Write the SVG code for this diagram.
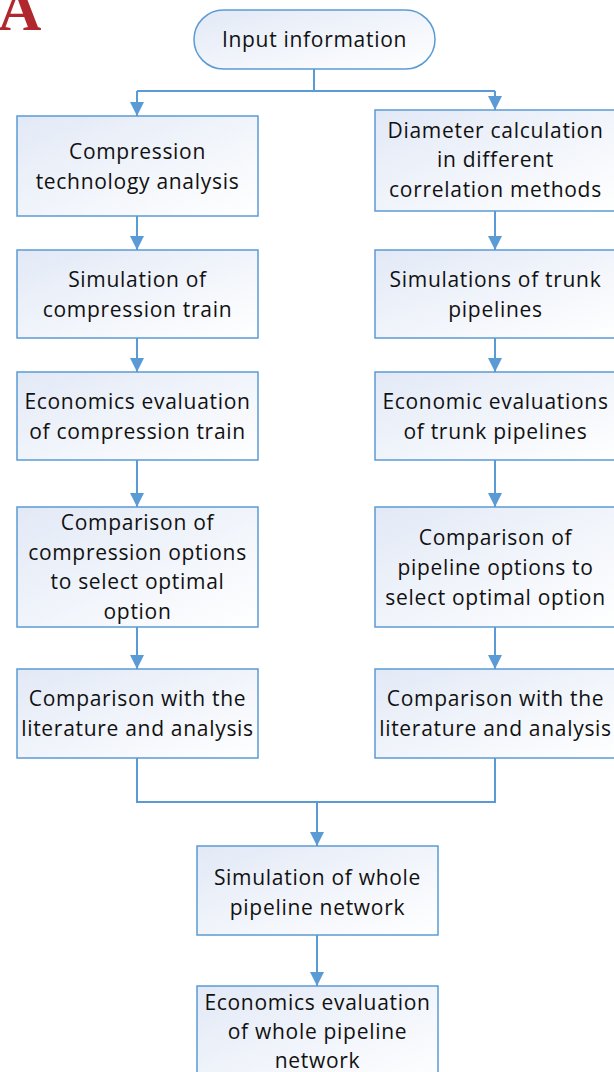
<svg xmlns="http://www.w3.org/2000/svg" width="614" height="1072" viewBox="0 0 614 1072">
<defs>
<linearGradient id="g" x1="0" y1="0" x2="1" y2="1">
<stop offset="0" stop-color="#e2e9f6"/>
<stop offset="1" stop-color="#ffffff"/>
</linearGradient>
<marker id="ah" markerWidth="14" markerHeight="14" refX="14" refY="7" orient="auto" markerUnits="userSpaceOnUse">
<path d="M0,0 L14,7 L0,14 Z" fill="#5b9bd5"/>
</marker>
<style>
.box{fill:url(#g);stroke:#5b9bd5;stroke-width:1.5}
.t{font-family:"Open Sans","Liberation Sans",sans-serif;font-size:21px;letter-spacing:0.7px;fill:#111;text-anchor:middle}
.c{fill:none;stroke:#5b9bd5;stroke-width:2}
</style>
</defs>
<rect width="614" height="1072" fill="#fff"/>
<text x="-2" y="30" font-family="Liberation Serif,serif" font-weight="bold" font-size="60" fill="#b0282e">A</text>

<g id="connectors">
<path class="c" d="M314,69 V91"/>
<path class="c" d="M137,91 H495"/>
<path class="c" d="M137,91 V116" marker-end="url(#ah)"/>
<path class="c" d="M495,91 V110" marker-end="url(#ah)"/>
<path class="c" d="M137,216 V250" marker-end="url(#ah)"/>
<path class="c" d="M137,338 V372" marker-end="url(#ah)"/>
<path class="c" d="M137,460 V507" marker-end="url(#ah)"/>
<path class="c" d="M137,627 V669" marker-end="url(#ah)"/>
<path class="c" d="M495,211 V250" marker-end="url(#ah)"/>
<path class="c" d="M495,338 V372" marker-end="url(#ah)"/>
<path class="c" d="M495,460 V507" marker-end="url(#ah)"/>
<path class="c" d="M495,627 V669" marker-end="url(#ah)"/>
<path class="c" d="M137,758 V802 H495 V758"/>
<path class="c" d="M317,802 V846" marker-end="url(#ah)"/>
<path class="c" d="M317,935 V986" marker-end="url(#ah)"/>
</g>

<g id="input">
<rect class="box" x="194" y="10" width="241" height="59" rx="29.5"/>
<text class="t" x="314.5" y="47">Input information</text>
</g>

<g id="l1">
<rect class="box" x="17" y="116" width="241" height="100"/>
<text class="t" x="137.5" y="159">Compression</text>
<text class="t" x="137.5" y="189">technology analysis</text>
</g>
<g id="l2">
<rect class="box" x="17" y="250" width="241" height="88"/>
<text class="t" x="137.5" y="287">Simulation of</text>
<text class="t" x="137.5" y="317">compression train</text>
</g>
<g id="l3">
<rect class="box" x="17" y="372" width="241" height="88"/>
<text class="t" x="137.5" y="409">Economics evaluation</text>
<text class="t" x="137.5" y="439">of compression train</text>
</g>
<g id="l4">
<rect class="box" x="17" y="507" width="241" height="120"/>
<text class="t" x="137.5" y="530">Comparison of</text>
<text class="t" x="137.5" y="560">compression options</text>
<text class="t" x="137.5" y="589">to select optimal</text>
<text class="t" x="137.5" y="619">option</text>
</g>
<g id="l5">
<rect class="box" x="17" y="669" width="241" height="89"/>
<text class="t" x="137.5" y="706">Comparison with the</text>
<text class="t" x="137.5" y="736">literature and analysis</text>
</g>

<g id="r1">
<rect class="box" x="375" y="110" width="241" height="101"/>
<text class="t" x="495.5" y="138">Diameter calculation</text>
<text class="t" x="495.5" y="167">in different</text>
<text class="t" x="495.5" y="197">correlation methods</text>
</g>
<g id="r2">
<rect class="box" x="375" y="250" width="241" height="88"/>
<text class="t" x="495.5" y="287">Simulations of trunk</text>
<text class="t" x="495.5" y="317">pipelines</text>
</g>
<g id="r3">
<rect class="box" x="375" y="372" width="241" height="88"/>
<text class="t" x="495.5" y="409">Economic evaluations</text>
<text class="t" x="495.5" y="439">of trunk pipelines</text>
</g>
<g id="r4">
<rect class="box" x="375" y="507" width="241" height="120"/>
<text class="t" x="495.5" y="545">Comparison of</text>
<text class="t" x="495.5" y="575">pipeline options to</text>
<text class="t" x="495.5" y="605">select optimal option</text>
</g>
<g id="r5">
<rect class="box" x="375" y="669" width="241" height="89"/>
<text class="t" x="495.5" y="706">Comparison with the</text>
<text class="t" x="495.5" y="736">literature and analysis</text>
</g>

<g id="m1">
<rect class="box" x="197" y="846" width="241" height="89"/>
<text class="t" x="317.5" y="885">Simulation of whole</text>
<text class="t" x="317.5" y="915">pipeline network</text>
</g>
<g id="m2">
<rect class="box" x="197" y="986" width="241" height="100"/>
<text class="t" x="317.5" y="1010">Economics evaluation</text>
<text class="t" x="317.5" y="1039">of whole pipeline</text>
<text class="t" x="317.5" y="1068">network</text>
</g>
</svg>
